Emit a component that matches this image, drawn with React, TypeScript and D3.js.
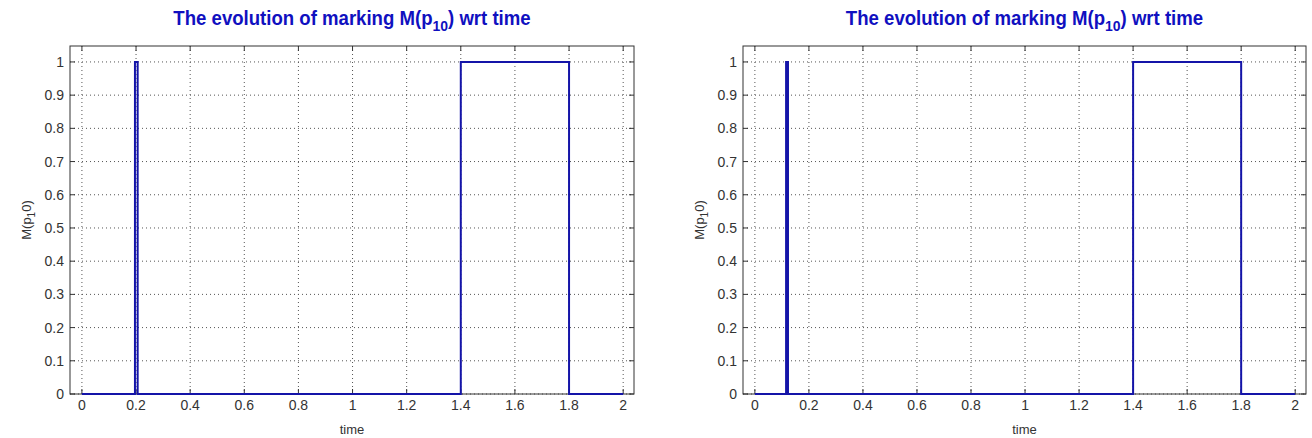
import React, { useEffect, useRef } from 'react';
import * as d3 from 'd3';

// time ticks / marking ticks
const timeTicks = [0, 0.2, 0.4, 0.6, 0.8, 1, 1.2, 1.4, 1.6, 1.8, 2];
const markTicks = [0, 0.1, 0.2, 0.3, 0.4, 0.5, 0.6, 0.7, 0.8, 0.9, 1];

// left plot: M(p10) over time
const leftTime = [0, 0.196, 0.196, 0.206, 0.206, 1.4, 1.4, 1.8, 1.8, 2];
const leftMark = [0, 0, 1, 1, 0, 0, 1, 1, 0, 0];

// right plot
const rightTime = [0, 0.1155, 0.1155, 0.1225, 0.1225, 1.4, 1.4, 1.8, 1.8, 2];
const rightMark = [0, 0, 1, 1, 0, 0, 1, 1, 0, 0];

const FONT = '"Liberation Sans", Arial, sans-serif';

const StepPlot = ({ x0, x1, time, mark }) => {
  const ref = useRef(null);

  useEffect(() => {
    const top = 46;
    const bottom = 394;
    const g = d3.select(ref.current);
    g.selectAll('*').remove();

    const x = d3.scaleLinear().domain([-0.044, 2.04]).range([x0, x1]);
    const y = d3.scaleLinear().domain([0, 1.048]).range([bottom, top]);

    g.append('rect')
      .attr('x', x0)
      .attr('y', top)
      .attr('width', x1 - x0)
      .attr('height', bottom - top)
      .attr('fill', '#fff');

    // grid
    g.selectAll('line.gx')
      .data(timeTicks)
      .enter()
      .append('line')
      .attr('x1', (d) => x(d))
      .attr('x2', (d) => x(d))
      .attr('y1', top)
      .attr('y2', bottom)
      .attr('stroke', '#555')
      .attr('stroke-width', 1)
      .attr('stroke-dasharray', '1,3');
    g.selectAll('line.gy')
      .data(markTicks)
      .enter()
      .append('line')
      .attr('x1', x0)
      .attr('x2', x1)
      .attr('y1', (d) => y(d))
      .attr('y2', (d) => y(d))
      .attr('stroke', '#555')
      .attr('stroke-width', 1)
      .attr('stroke-dasharray', '1,3');

    // ticks on all sides (inward)
    const tl = 5;
    timeTicks.forEach((d) => {
      g.append('line').attr('x1', x(d)).attr('x2', x(d)).attr('y1', bottom).attr('y2', bottom - tl).attr('stroke', '#333');
      g.append('line').attr('x1', x(d)).attr('x2', x(d)).attr('y1', top).attr('y2', top + tl).attr('stroke', '#333');
    });
    markTicks.forEach((d) => {
      g.append('line').attr('x1', x0).attr('x2', x0 + tl).attr('y1', y(d)).attr('y2', y(d)).attr('stroke', '#333');
      g.append('line').attr('x1', x1).attr('x2', x1 - tl).attr('y1', y(d)).attr('y2', y(d)).attr('stroke', '#333');
    });

    g.append('rect')
      .attr('x', x0)
      .attr('y', top)
      .attr('width', x1 - x0)
      .attr('height', bottom - top)
      .attr('fill', 'none')
      .attr('stroke', '#333')
      .attr('stroke-width', 1);

    // tick labels
    g.selectAll('text.tx')
      .data(timeTicks)
      .enter()
      .append('text')
      .attr('x', (d) => x(d))
      .attr('y', bottom + 16)
      .attr('text-anchor', 'middle')
      .style('font-family', FONT)
      .style('font-size', '14px')
      .attr('fill', '#333')
      .text((d) => d3.format('~g')(d));
    g.selectAll('text.ty')
      .data(markTicks)
      .enter()
      .append('text')
      .attr('x', x0 - 6)
      .attr('y', (d) => y(d) + 5)
      .attr('text-anchor', 'end')
      .style('font-family', FONT)
      .style('font-size', '14px')
      .attr('fill', '#333')
      .text((d) => d3.format('~g')(d));

    // the step line
    const pts = time.map((t, i) => [t, mark[i]]);
    g.append('path')
      .datum(pts)
      .attr('fill', 'none')
      .attr('stroke', '#1414a8')
      .attr('stroke-width', 2)
      .attr('d', d3.line().x((d) => x(d[0])).y((d) => y(d[1])));

    // labels
    const cx = (x0 + x1) / 2;
    const title = g
      .append('text')
      .attr('transform', `translate(${cx},25) scale(0.93,1)`)
      .attr('text-anchor', 'middle')
      .style('font-family', FONT)
      .style('font-size', '20px')
      .style('font-weight', 'bold')
      .attr('fill', '#1010c0');
    title.append('tspan').text('The evolution of marking M(p');
    title.append('tspan').attr('dy', 6).style('font-size', '15px').text('10');
    title.append('tspan').attr('dy', -6).text(') wrt time');

    g.append('text')
      .attr('x', cx)
      .attr('y', 434)
      .attr('text-anchor', 'middle')
      .style('font-family', FONT)
      .style('font-size', '13px')
      .attr('fill', '#333')
      .text('time');

    const yl = g
      .append('text')
      .attr('transform', `translate(${x0 - 39},${(top + bottom) / 2}) rotate(-90)`)
      .attr('text-anchor', 'middle')
      .style('font-family', FONT)
      .style('font-size', '13px')
      .attr('fill', '#333');
    yl.append('tspan').text('M(p');
    yl.append('tspan').attr('dy', 4).style('font-size', '10px').text('1');
    yl.append('tspan').attr('dy', -4).text('0)');
  }, [x0, x1, time, mark]);

  return <g ref={ref} />;
};

export default function App() {
  return (
    <svg
      width={1312}
      height={438}
      style={{ position: 'absolute', left: 0, top: 0, background: '#fff' }}
    >
      <StepPlot x0={70} x1={634} time={leftTime} mark={leftMark} />
      <StepPlot x0={743} x1={1306} time={rightTime} mark={rightMark} />
    </svg>
  );
}
